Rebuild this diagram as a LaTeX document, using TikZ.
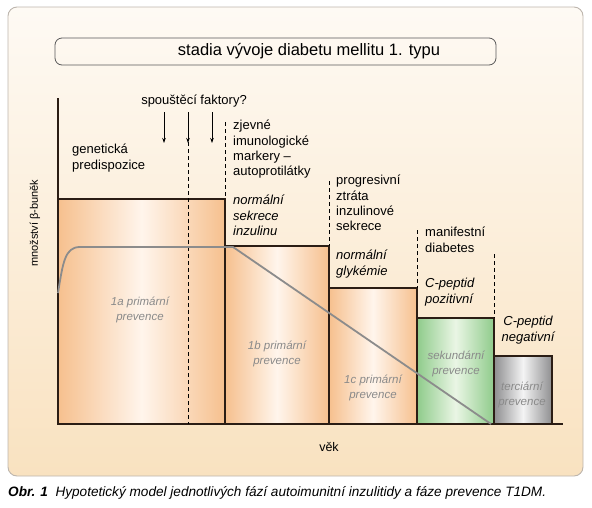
\documentclass[tikz,border=0pt]{standalone}
\usepackage{fontspec}
\setmainfont{Liberation Sans}
\usetikzlibrary{arrows.meta}
\definecolor{paneltop}{HTML}{FEFAF4}
\definecolor{panelbot}{HTML}{F9E2C0}
\definecolor{panelline}{HTML}{BDB5AD}
\definecolor{peachedge}{HTML}{F6C08E}
\definecolor{peachmid}{HTML}{FFF5EC}
\definecolor{greenedge}{HTML}{8FCB8B}
\definecolor{greenmid}{HTML}{EAF6E5}
\definecolor{grayedge}{HTML}{8E8E90}
\definecolor{graymid}{HTML}{F4F4F4}
\definecolor{boxline}{HTML}{2B1D14}
\definecolor{curvegray}{HTML}{8C8C8C}
\definecolor{labelgray}{HTML}{8A8A8A}
\begin{document}
\begin{tikzpicture}[x=1pt,y=-1pt,
  stagebox/.style={draw=boxline,line width=1.3pt},
  peachbox/.style={stagebox,left color=peachedge,right color=peachedge,middle color=peachmid},
  greenbox/.style={stagebox,left color=greenedge,right color=greenedge,middle color=greenmid},
  graybox/.style={stagebox,left color=grayedge,right color=grayedge,middle color=graymid},
  dashline/.style={draw=black,line width=0.6pt,dash pattern=on 4pt off 3pt},
  trigger/.style={draw=black,line width=0.7pt,-{Stealth[length=5pt,width=3.5pt]}},
  phase/.style={inner sep=0pt,anchor=north west,align=left,font=\fontsize{13}{15.4}\selectfont},
  phaseit/.style={phase,font=\fontsize{13}{15.4}\selectfont\itshape},
  prev/.style={inner sep=0pt,align=center,text=labelgray,font=\fontsize{11.5}{15}\selectfont\itshape},
  curve/.style={draw=curvegray,line width=1.8pt,line join=round}]
\useasboundingbox (0,0) rectangle (592,507);
% panel
\shade[rounded corners=9pt,top color=paneltop,bottom color=panelbot] (8,7) rectangle (583,476);
\draw[panelline,line width=0.9pt,rounded corners=9pt] (8,7) rectangle (583,476);
% title
\draw[draw=black!65,line width=0.8pt,rounded corners=7pt] (55,38) rectangle (496,65);
\node[font=\fontsize{16.5}{18}\selectfont] (title) at (309,51) {stadia vývoje diabetu mellitu 1. typu};
% boxes
\shade[peachbox] (58,199) rectangle (225,424);
\draw[stagebox] (58,199) rectangle (225,424);
\shade[peachbox] (225,246) rectangle (329,424);
\draw[stagebox] (225,246) rectangle (329,424);
\shade[peachbox] (329,288) rectangle (417,424);
\draw[stagebox] (329,288) rectangle (417,424);
\shade[greenbox] (417,318) rectangle (494,424);
\draw[stagebox] (417,318) rectangle (494,424);
\shade[graybox] (494,356) rectangle (552,424);
\draw[stagebox] (494,356) rectangle (552,424);
% axes
\coordinate (ytop) at (58,98);
\coordinate (origin) at (58,424);
\coordinate (xend) at (563,424);
\draw[boxline,line width=1.2pt] (ytop) -- (origin) -- (xend);
% dashed phase borders
\draw[dashline] (188,142) -- (188,424);
\draw[dashline] (225,122) -- (225,199);
\draw[dashline] (329,181) -- (329,246);
\draw[dashline] (417,230) -- (417,288);
\draw[dashline] (494,254) -- (494,318);
% triggers
\node (trig) at (194,101) {\fontsize{13}{15}\selectfont spouštěcí faktory?};
\foreach \i/\x in {a/164,b/188,c/212}{
  \coordinate (t\i1) at (\x,112);
  \coordinate (t\i2) at (\x,143);
  \draw[trigger] (t\i1) -- (t\i2);
}
% curve
\draw[curve] (58,293) .. controls (63,262) and (65,247) .. (80,247) -- (233,247) -- (491,424);
% phase labels
\node[phase] (gen) at (72,144) {genetická\\predispozice};
\node[phase] (imm) at (233,120) {zjevné\\imunologické\\markery –\\autoprotilátky};
\node[phaseit] (nsi) at (233,195) {normální\\sekrece\\inzulinu};
\node[phase] (prog) at (336,175) {progresivní\\ztráta\\inzulinové\\sekrece};
\node[phaseit] (ngl) at (336,250) {normální\\glykémie};
\node[phase] (man) at (425,227) {manifestní\\diabetes};
\node[phaseit] (cpp) at (425,278) {C-peptid\\pozitivní};
\node[phaseit,anchor=north,align=center] (cpn) at (528,316) {C-peptid\\negativní};
% prevention labels
\node[prev] (p1a) at (140,310) {1a primární\\prevence};
\node[prev] (p1b) at (277,354) {1b primární\\prevence};
\node[prev] (p1c) at (373,388) {1c primární\\prevence};
\node[prev] (psek) at (456,364) {sekundární\\prevence};
\node[prev] (pter) at (522,395) {terciární\\prevence};
% axis labels
\node[rotate=90,font=\fontsize{11}{12}\selectfont] (ylab) at (35,223) {množství β-buněk};
\node[font=\fontsize{12.5}{14}\selectfont] (xlab) at (329,447) {věk};
% caption
\node[anchor=west,inner sep=0pt,font=\fontsize{13.6}{15}\selectfont] (cap) at (8,493) {\textbf{\itshape Obr. 1}\ \ \itshape Hypotetický model jednotlivých fází autoimunitní inzulitidy a fáze prevence T1DM.};
\end{tikzpicture}
\end{document}
